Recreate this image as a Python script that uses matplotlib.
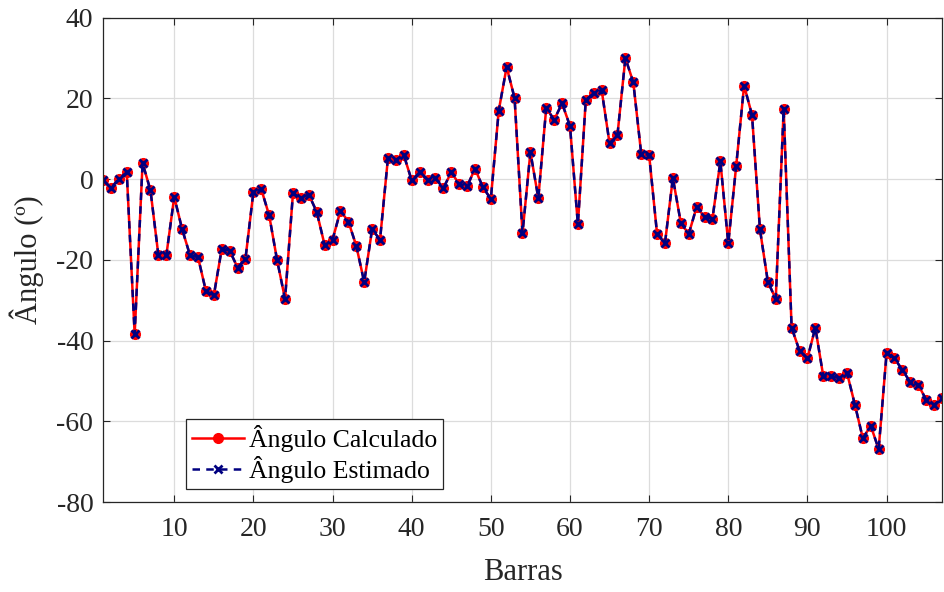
import numpy as np
import matplotlib
matplotlib.use("Agg")
import matplotlib.pyplot as plt

# angle per bar (degrees)
angulo_calc = [
    -0.2, -2.2, 0.1, 1.7, -38.4, 4.0, -2.8, -18.9, -18.9, -4.4,
    -12.4, -18.9, -19.3, -27.7, -28.8, -17.3, -17.7, -21.9, -19.7, -3.2,
    -2.5, -9.0, -20.1, -29.7, -3.5, -4.6, -3.8, -8.1, -16.3, -15.0,
    -7.8, -10.5, -16.5, -25.5, -12.4, -15.0, 5.2, 4.8, 6.0, -0.3,
    1.7, -0.2, 0.2, -2.2, 1.7, -1.2, -1.8, 2.6, -2.0, -4.9,
    17.0, 27.8, 20.1, -13.4, 6.7, -4.7, 17.7, 14.7, 18.8, 13.2,
    -11.2, 19.7, 21.3, 22.1, 8.9, 11.0, 30.0, 24.0, 6.3, 6.0,
    -13.5, -15.9, 0.3, -10.8, -13.6, -6.9, -9.3, -9.8, 4.4, -15.9,
    3.3, 23.2, 15.9, -12.4, -25.4, -29.7, 17.4, -36.8, -42.5, -44.4,
    -36.8, -48.8, -48.8, -49.3, -48.0, -55.9, -64.2, -61.1, -66.9, -43.1,
    -44.4, -47.3, -50.3, -51.0, -54.6, -55.9, -54.3,
]
angulo_est = list(angulo_calc)
barras = np.arange(1, len(angulo_calc) + 1)

plt.rcParams['font.family'] = ['Liberation Serif', 'DejaVu Serif']
plt.rcParams['axes.unicode_minus'] = False

fig = plt.figure(figsize=(9.45, 5.92), dpi=100)
ax = fig.add_axes([0.109, 0.152, 0.8878, 0.818])

ax.plot(barras, angulo_calc, color='#ff0000', linewidth=1.8, marker='o',
        markersize=7, label='Ângulo Calculado')
ax.plot(barras, angulo_est, color='#000080', linewidth=1.8, linestyle=(0, (3, 2.5)),
        marker='x', markersize=6, markeredgewidth=2, label='Ângulo Estimado')

ax.set_xlim(1, 107)
ax.set_ylim(-80, 40)
ax.set_xticks(np.arange(10, 101, 10))
ax.set_yticks(np.arange(-80, 41, 20))
ax.grid(True, color='#dcdcdc', linewidth=0.9)
ax.set_axisbelow(True)
ax.tick_params(direction='in', top=True, right=True, labelsize=20, length=5,
               width=0.8, color='#262626', labelcolor='#262626')
ax.tick_params(axis='x', pad=11)
ax.tick_params(axis='y', pad=7)
for s in ax.spines.values():
    s.set_color('#262626')
    s.set_linewidth(0.9)

ax.set_xlabel('Barras', fontsize=22, color='#262626', labelpad=11)
ax.set_ylabel('Ângulo (º)', fontsize=22, color='#262626', labelpad=9)

leg = ax.legend(loc='lower left', bbox_to_anchor=(0.0986, 0.026), borderaxespad=0,
                fontsize=18.5, fancybox=False, framealpha=1, handlelength=2.0,
                handletextpad=0.2, borderpad=0.25, labelspacing=0.15)
leg.get_frame().set_edgecolor('#262626')
leg.get_frame().set_linewidth(0.9)

fig.savefig('out.png', dpi=100)
